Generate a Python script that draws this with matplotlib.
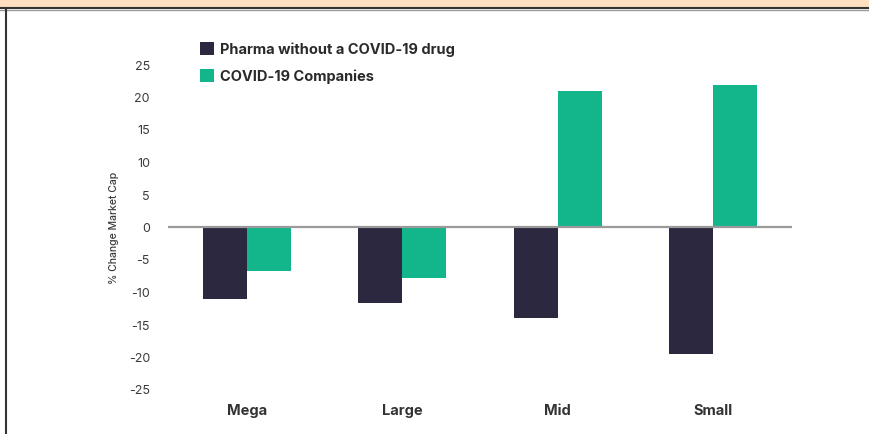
import matplotlib
matplotlib.use("Agg")
import matplotlib.pyplot as plt
import numpy as np
from matplotlib.patches import Rectangle
from matplotlib.lines import Line2D

categories = ["Mega", "Large", "Mid", "Small"]
series_names = ["Pharma without a COVID-19 drug", "COVID-19 Companies"]
pharma_no_covid = [-11.2, -11.7, -14.0, -19.6]
covid_companies = [-6.9, -7.9, 20.8, 21.8]
yticks = [25, 20, 15, 10, 5, 0, -5, -10, -15, -20, -25]

dark = "#2c2840"
green = "#13b68b"

plt.rcParams['font.family'] = ['Inter', 'DejaVu Sans']

fig = plt.figure(figsize=(8.69, 4.35), dpi=100)
fig.patch.set_facecolor("white")

# header band and frame
fig.add_artist(Rectangle((0, 1 - 8.5/435), 1, 8.5/435, transform=fig.transFigure,
                         facecolor="#fddfbf", edgecolor="none", zorder=0))
fig.add_artist(Line2D([0, 1], [1 - 9/435, 1 - 9/435], transform=fig.transFigure,
                      color="#333333", lw=1.5))
fig.add_artist(Line2D([0, 1], [1 - 10.5/435, 1 - 10.5/435], transform=fig.transFigure,
                      color="#999999", lw=1.0))
fig.add_artist(Line2D([6/869, 6/869], [0, 1 - 9/435], transform=fig.transFigure,
                      color="#333333", lw=1.5))

ax = fig.add_axes([168/869, 1 - 390/435, (792 - 168)/869, (390 - 65)/435])
x = np.arange(len(categories))
w = 0.283
ax.bar(x - w/2, pharma_no_covid, width=w, color=dark, label=series_names[0], zorder=2)
ax.bar(x + w/2, covid_companies, width=w, color=green, label=series_names[1], zorder=2)
ax.axhline(0, color="#9a9a9a", lw=1.6, zorder=3)

ax.set_xlim(-0.51, 3.51)
ax.set_ylim(-25, 25)
ax.set_yticks(yticks)
ax.set_yticklabels([str(t) for t in yticks])
ax.set_xticks(x)
ax.set_xticklabels(categories, fontweight="bold", fontsize=10.5, color="#333333")
for s in ax.spines.values():
    s.set_visible(False)
ax.tick_params(axis="y", length=0, pad=13, labelsize=9, labelcolor="#3a3a3a")
ax.tick_params(axis="x", length=0, pad=10)
ax.set_ylabel("% Change Market Cap", fontsize=7.5, color="#3a3a3a", labelpad=7,
              fontweight="medium")

leg = ax.legend(loc="upper left", bbox_to_anchor=(26/624, 1 + 28/325), frameon=False,
                prop={"weight": "bold", "size": 10.5}, handlelength=1.0, handleheight=1.0,
                handletextpad=0.4, labelspacing=0.85, borderaxespad=0)
for t in leg.get_texts():
    t.set_color("#2a2a2a")

fig.savefig("out.png", dpi=100)
